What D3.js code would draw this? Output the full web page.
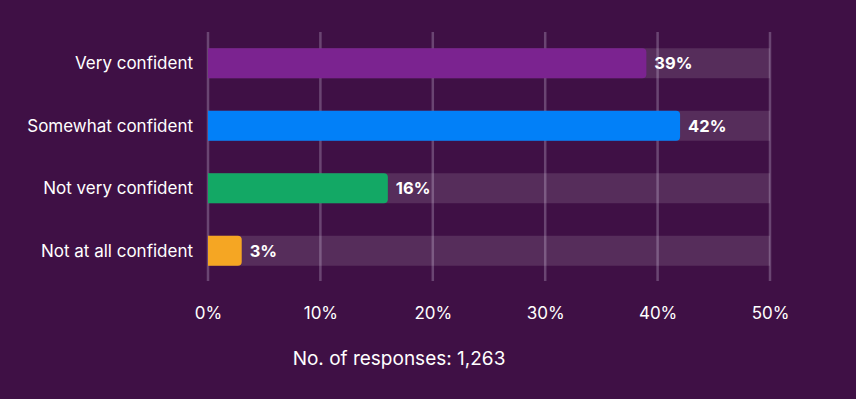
<!DOCTYPE html>
<html>
<head>
<meta charset="utf-8">
<script src="https://cdn.jsdelivr.net/npm/d3@7"></script>
<style>
  body { margin: 0; background: #3f1045; }
  svg { display: block; font-family: Inter, "Noto Sans", sans-serif; }
</style>
</head>
<body>
<div id="chart"></div>
<script>
// data
var categories = ["Very confident", "Somewhat confident", "Not very confident", "Not at all confident"]
var values = [39, 42, 16, 3]
var barColors = ["#7b2390", "#0280f8", "#13a865", "#f5a623"]
var ticks = [0, 10, 20, 30, 40, 50]
var responses = "1,263"

var width = 856, height = 399
var margin = { left: 208, right: 86, top: 32, bottom: 118 }

var svg = d3.select("#chart")
    .append("svg")
    .attr("width", width)
    .attr("height", height)

svg.append("rect").attr("width", width).attr("height", height).attr("fill", "#3f1045")

var x = d3.scaleLinear()
    .domain([0, 50])
    .range([margin.left, width - margin.right])

var y = d3.scaleBand()
    .domain(categories)
    .range([margin.top, height - margin.bottom + 1])
    .paddingInner(0.52)
    .paddingOuter(0.26)

// gridlines
svg.append("g")
    .selectAll("rect")
    .data(ticks)
    .enter()
    .append("rect")
    .attr("x", function (d) { return x(d) - 1.25 })
    .attr("y", margin.top)
    .attr("width", 2.5)
    .attr("height", height - margin.bottom - margin.top)
    .attr("fill", "#6a4572")

// background tracks
svg.append("g")
    .selectAll("rect")
    .data(categories)
    .enter()
    .append("rect")
    .attr("x", x(0))
    .attr("y", function (d) { return y(d) })
    .attr("width", x(50) - x(0))
    .attr("height", y.bandwidth())
    .attr("fill", "rgba(255,255,255,0.12)")

// bars, right side rounded
function barPath(d, i) {
    var x0 = x(0), x1 = x(values[i]), y0 = y(d), h = y.bandwidth(), r = 4
    var p = d3.path()
    p.moveTo(x0, y0)
    p.lineTo(x1 - r, y0)
    p.quadraticCurveTo(x1, y0, x1, y0 + r)
    p.lineTo(x1, y0 + h - r)
    p.quadraticCurveTo(x1, y0 + h, x1 - r, y0 + h)
    p.lineTo(x0, y0 + h)
    p.closePath()
    return p.toString()
}
svg.append("g")
    .selectAll("path")
    .data(categories)
    .enter()
    .append("path")
    .attr("d", barPath)
    .attr("fill", function (d, i) { return barColors[i] })

// value labels
svg.append("g")
    .selectAll("text")
    .data(categories)
    .enter()
    .append("text")
    .attr("x", function (d, i) { return x(values[i]) + 8 })
    .attr("y", function (d) { return y(d) + y.bandwidth() / 2 })
    .attr("dy", "0.36em")
    .attr("fill", "#fff")
    .style("font-size", "16.5px")
    .style("font-weight", "700")
    .text(function (d, i) { return values[i] + "%" })

// category labels
svg.append("g")
    .selectAll("text")
    .data(categories)
    .enter()
    .append("text")
    .attr("x", margin.left - 15)
    .attr("y", function (d) { return y(d) + y.bandwidth() / 2 })
    .attr("dy", "0.36em")
    .attr("text-anchor", "end")
    .attr("fill", "#fff")
    .style("font-size", "17px")
    .text(function (d) { return d })

// x axis tick labels
var xAxis = svg.append("g")
    .attr("transform", "translate(0," + (height - margin.bottom) + ")")
    .call(d3.axisBottom(x).tickValues(ticks).tickSize(0).tickPadding(26)
        .tickFormat(function (d) { return d + "%" }))
xAxis.select(".domain").remove()
xAxis.selectAll("text")
    .attr("fill", "#fff")
    .style("font-size", "17px")
    .style("font-family", "Inter, 'Noto Sans', sans-serif")

// footer
svg.append("text")
    .attr("x", 399)
    .attr("y", 365)
    .attr("text-anchor", "middle")
    .attr("fill", "#fff")
    .style("font-size", "19px")
    .text("No. of responses: " + responses)
</script>
</body>
</html>
